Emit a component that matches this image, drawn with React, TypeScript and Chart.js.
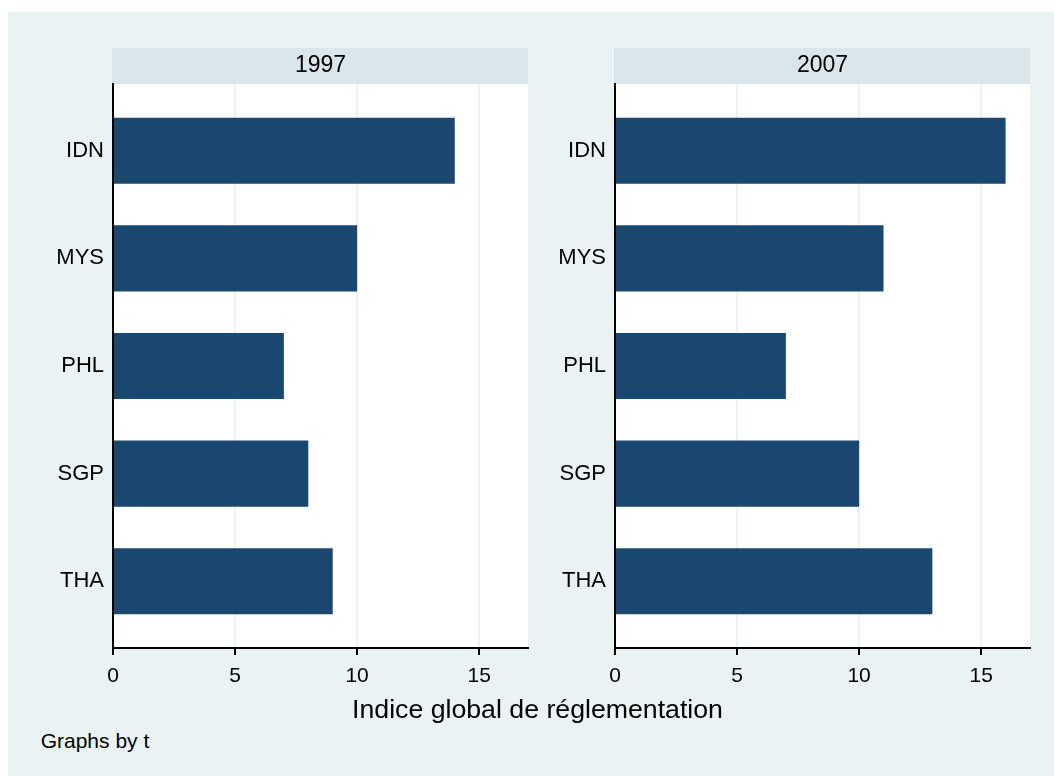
import React, { useEffect, useRef } from "react";
import { Chart, registerables } from "chart.js";

Chart.register(...registerables);

const categories = ["IDN", "MYS", "PHL", "SGP", "THA"];
const panelTitles = ["1997", "2007"];
const values1997 = [14, 10, 7, 8, 9];
const values2007 = [16, 11, 7, 10, 13];
const xTicks = [0, 5, 10, 15];
const xMax = 17;
const axisTitle = "Indice global de réglementation";
const noteText = "Graphs by t";

const FONT = "'Liberation Sans', Arial, Helvetica, sans-serif";
const OUTER_BG = "#EAF2F3";
const HEADER_BG = "#D9E6EB";
const BAR_COLOR = "#1A476F";
const GRID_COLOR = "#EAF2F3";

const panelPlugin = {
  id: "panelBg",
  beforeDraw(chart: any) {
    const { ctx, chartArea } = chart;
    ctx.save();
    ctx.fillStyle = "#FFFFFF";
    ctx.fillRect(chartArea.left, chartArea.top, chartArea.right - chartArea.left, chartArea.bottom - chartArea.top);
    const tb = chart.titleBlock;
    if (tb) {
      ctx.fillStyle = HEADER_BG;
      ctx.fillRect(chartArea.left - 1, tb.top, chartArea.right - chartArea.left + 1, chartArea.top - tb.top);
    }
    ctx.restore();
  },
};

function Panel({ title, values, left }: { title: string; values: number[]; left: number }) {
  const ref = useRef<HTMLCanvasElement | null>(null);
  useEffect(() => {
    if (!ref.current) return;
    const chart = new Chart(ref.current, {
      type: "bar",
      data: {
        datasets: [
          {
            data: values.map((v, i) => ({ x: v, y: i })),
            backgroundColor: BAR_COLOR,
            borderWidth: 0,
            categoryPercentage: 1,
            barPercentage: 0.615,
          } as any,
        ],
      },
      plugins: [panelPlugin],
      options: {
        animation: false,
        responsive: false,
        indexAxis: "y",
        layout: { padding: { top: 0, right: 12, bottom: 0, left: 0 } },
        plugins: {
          legend: { display: false },
          tooltip: { enabled: false },
          title: {
            display: true,
            text: title,
            fullSize: false,
            color: "#000",
            font: { family: FONT, size: 23, weight: "normal", lineHeight: 1.2 },
            padding: { top: 4.2, bottom: 4.2 },
          },
        },
        scales: {
          x: {
            type: "linear",
            min: 0,
            max: xMax,
            afterBuildTicks: (s: any) => {
              s.ticks = xTicks.map((v) => ({ value: v }));
            },
            afterFit: (s: any) => {
              s.height = 50;
            },
            grid: {
              color: (c: any) => (c.tick && c.tick.value === 0 ? "rgba(0,0,0,0)" : GRID_COLOR),
              lineWidth: 2,
              drawTicks: true,
              tickLength: 7,
              tickColor: "#000",
              tickWidth: 2,
            },
            border: { display: true, color: "#000", width: 2 },
            ticks: {
              color: "#000",
              padding: 9,
              maxRotation: 0,
              font: { family: FONT, size: 21 },
            },
          },
          y: {
            type: "linear",
            reverse: true,
            min: -0.62,
            max: 4.62,
            offset: false,
            afterBuildTicks: (s: any) => {
              s.ticks = categories.map((_, i) => ({ value: i }));
            },
            afterFit: (s: any) => {
              s.width = 83;
            },
            grid: { display: true, color: "rgba(0,0,0,0)", drawTicks: false, offset: false },
            border: { display: true, color: "#000", width: 2 },
            ticks: {
              color: "#000",
              padding: 9,
              font: { family: FONT, size: 22 },
              callback: (v: any) => categories[Math.round(Number(v))] ?? "",
            },
          },
        },
      } as any,
    });
    return () => chart.destroy();
  }, [title, values]);
  return (
    <canvas
      ref={ref}
      width={510}
      height={650}
      style={{ position: "absolute", left, top: 36, width: 510, height: 650, display: "block" }}
    />
  );
}

export default function App() {
  return (
    <div
      style={{
        position: "fixed",
        left: 8,
        top: 12,
        width: 1100,
        height: 820,
        background: OUTER_BG,
        fontFamily: FONT,
        overflow: "hidden",
      }}
    >
      <Panel title={panelTitles[0]} values={values1997} left={22} />
      <Panel title={panelTitles[1]} values={values2007} left={524} />
      <div
        style={{
          position: "absolute",
          left: 529.5,
          top: 683.9,
          transform: "translateX(-50%)",
          whiteSpace: "nowrap",
          fontSize: 26.7,
          lineHeight: "26.7px",
          color: "#000",
        }}
      >
        {axisTitle}
      </div>
      <div
        style={{
          position: "absolute",
          left: 32.7,
          top: 717.7,
          whiteSpace: "nowrap",
          fontSize: 21,
          lineHeight: "21px",
          color: "#000",
        }}
      >
        {noteText}
      </div>
    </div>
  );
}
